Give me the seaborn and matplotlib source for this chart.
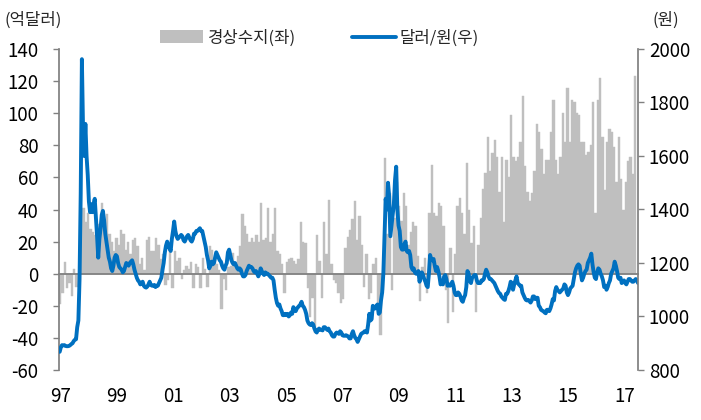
import numpy as np
import pandas as pd
import matplotlib
matplotlib.use("Agg")
import matplotlib.pyplot as plt
import matplotlib.transforms as mtransforms
from matplotlib.patches import Patch
from matplotlib.lines import Line2D
import seaborn as sns

# ---------------- data ----------------
# Current account, monthly, 100 million USD (Mar 1997 - Sep 2017)
ca_1997 = [-19, -12, 7, -9, -6, -14, 3, -8, -4, 36]
ca_1998 = [41, 32, 38, 28, 26, 24, 31, 29, 44, 30, 37, 25]
ca_1999 = [20, 14, 22, 18, 27, 25, 15, 20, 12, 21, 22, 17]
ca_2000 = [6, 10, 2, 21, 23, 14, 14, 22, 18, 9, 12, -7]
ca_2001 = [-4, 15, -9, 14, 8, 10, -3, 2, 5, 3, 7, -9]
ca_2002 = [6, 4, -9, 10, 3, -8, 17, 15, 9, 6, 2, -22]
ca_2003 = [-3, -10, 4, 5, 13, 7, 11, 17, 37, 30, 25, 20]
ca_2004 = [22, 20, 24, 20, 44, 21, 22, 41, 20, 25, 41, 14]
ca_2005 = [12, 6, -12, 7, 9, 10, 8, 6, 9, 32, 20, 19]
ca_2006 = [-9, -27, -15, -37, 24, 8, -15, 32, 12, 46, 6, -4]
ca_2007 = [-6, -12, -18, -16, 16, 23, 27, 34, 45, 21, 36, 18]
ca_2008 = [-8, 12, -16, -12, 6, 10, -20, -38, -10, 72, 25, 50]
ca_2009 = [-10, 35, 57, 42, 33, 50, 42, 18, 26, 32, 30, 11]
ca_2010 = [-17, 4, 10, -12, 38, 68, 38, 36, 44, 42, 30, -10]
ca_2011 = [-31, 16, -24, 12, 42, 47, 38, 25, 69, 40, 19, 30]
ca_2012 = [-24, 18, 35, 53, 63, 85, 64, 75, 83, 73, 51, 73]
ca_2013 = [32, 71, 60, 99, 73, 70, 73, 82, 111, 67, 51, 45]
ca_2014 = [50, 64, 93, 88, 78, 62, 71, 71, 88, 108, 71, 62]
ca_2015 = [73, 100, 82, 116, 82, 108, 107, 100, 99, 82, 82, 74]
ca_2016 = [76, 80, 107, 38, 108, 122, 85, 52, 82, 90, 88, 79]
ca_2017 = [57, 85, 59, 40, 57, 70, 73, 62, 123]

# KRW per USD, semi-monthly (Mar 1997 - Oct 2017)
fx_1997 = [868, 885, 893, 892, 893, 890, 889, 889, 890, 893, 897, 900, 908, 913, 915, 960, 985, 1140, 1460, 1962]
fx_1998 = [1700, 1600, 1720, 1600, 1530, 1430, 1390, 1420, 1390, 1420, 1440, 1370, 1300, 1220, 1290, 1330, 1380, 1395, 1360, 1310, 1280, 1250, 1220, 1205]
fx_1999 = [1180, 1170, 1190, 1220, 1230, 1225, 1200, 1185, 1180, 1175, 1165, 1170, 1185, 1200, 1195, 1190, 1200, 1205, 1210, 1195, 1175, 1160, 1145, 1135]
fx_2000 = [1130, 1120, 1125, 1130, 1115, 1110, 1108, 1112, 1120, 1130, 1118, 1115, 1115, 1118, 1110, 1115, 1115, 1125, 1135, 1145, 1175, 1200, 1240, 1265]
fx_2001 = [1280, 1265, 1255, 1245, 1290, 1320, 1355, 1320, 1300, 1290, 1295, 1300, 1305, 1300, 1285, 1280, 1290, 1300, 1305, 1295, 1285, 1280, 1290, 1310]
fx_2002 = [1310, 1320, 1320, 1325, 1330, 1320, 1320, 1300, 1280, 1260, 1230, 1210, 1180, 1190, 1205, 1195, 1200, 1220, 1240, 1230, 1220, 1210, 1205, 1190]
fx_2003 = [1180, 1175, 1190, 1200, 1240, 1250, 1230, 1210, 1200, 1195, 1200, 1190, 1180, 1175, 1180, 1175, 1160, 1150, 1150, 1155, 1170, 1180, 1190, 1185]
fx_2004 = [1185, 1180, 1170, 1165, 1170, 1160, 1150, 1160, 1180, 1170, 1160, 1155, 1165, 1160, 1160, 1155, 1150, 1145, 1145, 1135, 1100, 1070, 1050, 1040]
fx_2005 = [1045, 1030, 1020, 1005, 1005, 1010, 1005, 1010, 1000, 1005, 1015, 1010, 1035, 1025, 1020, 1030, 1035, 1040, 1045, 1055, 1040, 1035, 1025, 1010]
fx_2006 = [985, 975, 970, 968, 975, 970, 955, 945, 940, 950, 955, 950, 950, 948, 960, 960, 955, 950, 955, 945, 940, 930, 925, 925]
fx_2007 = [935, 940, 938, 935, 945, 940, 930, 928, 928, 930, 928, 925, 918, 918, 935, 945, 930, 920, 915, 905, 915, 925, 935, 938]
fx_2008 = [940, 945, 945, 940, 970, 1010, 985, 990, 1040, 1030, 1030, 1040, 1045, 1010, 1015, 1060, 1090, 1160, 1300, 1440, 1400, 1500, 1450, 1300]
fx_2009 = [1340, 1380, 1420, 1510, 1560, 1400, 1340, 1320, 1260, 1250, 1250, 1270, 1280, 1245, 1240, 1245, 1230, 1185, 1175, 1180, 1165, 1160, 1160, 1170]
fx_2010 = [1130, 1150, 1165, 1155, 1140, 1130, 1115, 1110, 1160, 1230, 1215, 1210, 1215, 1190, 1170, 1185, 1170, 1150, 1120, 1125, 1120, 1150, 1155, 1140]
fx_2011 = [1115, 1120, 1115, 1120, 1130, 1115, 1090, 1080, 1080, 1090, 1085, 1075, 1060, 1055, 1070, 1080, 1110, 1170, 1160, 1135, 1125, 1145, 1150, 1155]
fx_2012 = [1155, 1135, 1125, 1125, 1125, 1135, 1135, 1140, 1160, 1175, 1165, 1150, 1140, 1140, 1135, 1130, 1125, 1115, 1105, 1095, 1088, 1085, 1075, 1070]
fx_2013 = [1065, 1062, 1085, 1085, 1095, 1110, 1130, 1125, 1100, 1120, 1135, 1150, 1125, 1120, 1115, 1115, 1090, 1080, 1070, 1062, 1060, 1062, 1058, 1052]
fx_2014 = [1060, 1075, 1075, 1065, 1070, 1070, 1040, 1035, 1025, 1022, 1020, 1015, 1012, 1025, 1025, 1020, 1030, 1045, 1065, 1060, 1095, 1110, 1100, 1095]
fx_2015 = [1090, 1095, 1100, 1105, 1120, 1115, 1090, 1080, 1090, 1105, 1110, 1115, 1140, 1165, 1180, 1190, 1195, 1190, 1160, 1135, 1145, 1160, 1170, 1175]
fx_2016 = [1200, 1210, 1220, 1235, 1195, 1165, 1145, 1140, 1165, 1180, 1175, 1160, 1150, 1135, 1110, 1115, 1100, 1110, 1125, 1135, 1160, 1170, 1180, 1205]
fx_2017 = [1190, 1170, 1145, 1140, 1145, 1125, 1130, 1135, 1125, 1120, 1130, 1140, 1140, 1135, 1130, 1130, 1135, 1140, 1135, 1125]

year_labels = ["97", "99", "01", "03", "05", "07", "09", "11", "13", "15", "17"]
left_ticks = [-60, -40, -20, 0, 20, 40, 60, 80, 100, 120, 140]
right_ticks = [800, 1000, 1200, 1400, 1600, 1800, 2000]
legend_labels = ["경상수지(좌)", "달러/원(우)"]

# ---------------- build frames ----------------
ca = (ca_1997 + ca_1998 + ca_1999 + ca_2000 + ca_2001 + ca_2002 + ca_2003 + ca_2004
      + ca_2005 + ca_2006 + ca_2007 + ca_2008 + ca_2009 + ca_2010 + ca_2011 + ca_2012
      + ca_2013 + ca_2014 + ca_2015 + ca_2016 + ca_2017)
fx = (fx_1997 + fx_1998 + fx_1999 + fx_2000 + fx_2001 + fx_2002 + fx_2003 + fx_2004
      + fx_2005 + fx_2006 + fx_2007 + fx_2008 + fx_2009 + fx_2010 + fx_2011 + fx_2012
      + fx_2013 + fx_2014 + fx_2015 + fx_2016 + fx_2017)

bar_df = pd.DataFrame({"month": np.arange(len(ca)), "ca": ca})
# month categories are centred on integers; semi-monthly points sit at quarter months
line_df = pd.DataFrame({"t": np.arange(len(fx)) * 0.5 - 0.25, "fx": fx})

# ---------------- style ----------------
sns.set_theme(style="white")
plt.rcParams['font.family'] = ['Noto Sans CJK KR', 'DejaVu Sans']
NUM_FS = 13.5
TXT_FS = 12
GRAY = "#808080"
BAR = "#BFBFBF"
BLUE = "#0070C0"

W, H = 701, 420
fig = plt.figure(figsize=(W / 100, H / 100), dpi=100)
L, R, T, B = 59.1, 637.7, 49, 370
ax = fig.add_axes([L / W, 1 - B / H, (R - L) / W, (B - T) / H])

sns.barplot(data=bar_df, x="month", y="ca", native_scale=True, color=BAR,
            saturation=1, width=1.0, linewidth=0.3, edgecolor=BAR,
            errorbar=None, ax=ax)

ax2 = ax.twinx()
sns.lineplot(data=line_df, x="t", y="fx", color=BLUE, linewidth=2.8, ax=ax2)

x_min, x_max = -0.5, 247.1
ax.set_xlim(x_min, x_max)
ax.set_ylim(-60, 140)
ax2.set_ylim(800, 2000)

ax.set_yticks(left_ticks)
ax.set_yticklabels([str(v) for v in left_ticks])
ax2.set_yticks(right_ticks)
ax2.set_yticklabels([str(v) for v in right_ticks])

tick_pos = [x_min + 24.05 * k for k in range(len(year_labels))]
ax.set_xticks(tick_pos)
ax.tick_params(axis="x", direction="out", length=4, width=1, color=GRAY,
               labelbottom=False)
ax.tick_params(axis="y", direction="out", length=4, width=1, color=GRAY,
               labelsize=NUM_FS, pad=11, labelcolor="black")
ax2.tick_params(axis="y", direction="out", length=4, width=1, color=GRAY,
                labelsize=NUM_FS, pad=4, labelcolor="black")

for a in (ax, ax2):
    a.set_xlabel("")
    a.set_ylabel("")
    a.grid(False)
    for s in a.spines.values():
        s.set_visible(False)
ax.spines["left"].set_visible(True)
ax.spines["left"].set_color(GRAY)
ax.spines["bottom"].set_visible(True)
ax.spines["bottom"].set_color(GRAY)
ax.spines["bottom"].set_linewidth(1.3)
ax.spines["bottom"].set_position(("data", 0))
ax2.spines["right"].set_visible(True)
ax2.spines["right"].set_color(GRAY)

# year labels along the bottom
trans = mtransforms.blended_transform_factory(ax.transData, fig.transFigure)
label_pos = [0.0 + 24.15 * k for k in range(len(year_labels))]
for p, lab in zip(label_pos, year_labels):
    ax.text(p, 1 - 397 / H, lab, transform=trans, ha="center", va="center",
            fontsize=NUM_FS, color="black", clip_on=False)

fig.text(5 / W, 1 - 20 / H, "(억달러)", ha="left", va="center", fontsize=TXT_FS)
fig.text(653 / W, 1 - 20 / H, "(원)", ha="left", va="center", fontsize=TXT_FS)

handles = [Patch(facecolor=BAR, edgecolor="none"),
           Line2D([], [], color=BLUE, linewidth=2.8)]
fig.legend(handles, legend_labels, loc="center left",
           bbox_to_anchor=(160 / W, 1 - 38 / H),
           ncol=2, frameon=False, fontsize=TXT_FS, handlelength=2.6,
           handleheight=0.8, handletextpad=0.25, columnspacing=3.4,
           borderaxespad=0, borderpad=0)

fig.savefig("out.png", dpi=100)
